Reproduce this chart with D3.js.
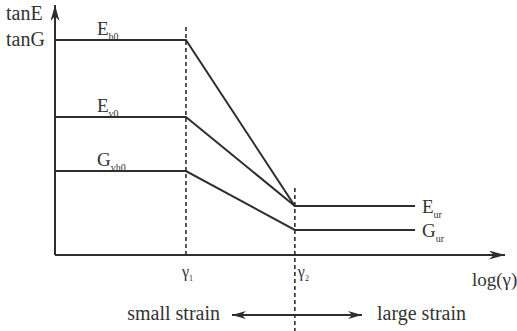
<!DOCTYPE html>
<html><head><meta charset="utf-8">
<script src="https://cdn.jsdelivr.net/npm/d3@7"></script>
<style>body{margin:0;background:#fff}svg{display:block}</style>
</head><body><div id="c"></div>
<script>
// key strain positions on the log(γ) axis (arbitrary units)
const strainX = [0, 29.1, 53.3, 80];
const gamma1 = 29.1, gamma2 = 53.3;
// stiffness series (arbitrary units)
const seriesNames = ["E_h0", "E_v0", "G_vh0"];
const seriesBase = ["E", "E", "G"];
const seriesSub = ["h0", "v0", "vh0"];
const seriesValues = [
  [86, 86, 19.6, 19.6],
  [55.2, 55.2, 19.6, 19.6],
  [33.6, 33.6, 10, 10]
];
const endLabels = [{base:"E", sub:"ur", v:19.6}, {base:"G", sub:"ur", v:10}];
const yLabels = ["tanE", "tanG"];
const xLabel = "log(γ)";
const gammaLabels = [{base:"γ", sub:"1", v:gamma1}, {base:"γ", sub:"2", v:gamma2}];
const strainTexts = ["small strain", "large strain"];

const W = 517, H = 331;
const FONT = "'Liberation Serif', 'Times New Roman', Times, 'DejaVu Serif', serif";
const svg = d3.select("#c").append("svg").attr("width", W).attr("height", H)
  .attr("font-family", FONT);
const x = d3.scaleLinear().domain([0, 100]).range([55, 505]);
const y = d3.scaleLinear().domain([0, 100]).range([255, 5]);
const ink = "#2e2e2e";
const txt = "#333";

const defs = svg.append("defs");
function marker(id, len, hw) {
  defs.append("marker").attr("id", id).attr("viewBox", `0 ${-hw} ${len} ${2*hw}`)
    .attr("refX", len).attr("refY", 0).attr("markerWidth", len).attr("markerHeight", 2*hw)
    .attr("markerUnits", "userSpaceOnUse").attr("orient", "auto-start-reverse")
    .append("path").attr("d", `M0,${-hw}L${len},0L0,${hw}L${len*0.3},0Z`).attr("fill", ink);
}
marker("ah", 16, 4.5);
marker("ah2", 14, 4);

// axes
svg.append("line").attr("x1", x(0)).attr("y1", y(0)).attr("x2", x(0)).attr("y2", y(100))
  .attr("stroke", ink).attr("stroke-width", 2).attr("marker-end", "url(#ah)");
svg.append("line").attr("x1", x(0)).attr("y1", y(0)).attr("x2", x(100)).attr("y2", y(0))
  .attr("stroke", ink).attr("stroke-width", 2).attr("marker-end", "url(#ah)");

// dashed reference lines
svg.append("line").attr("x1", x(gamma1)).attr("x2", x(gamma1)).attr("y1", 27).attr("y2", y(0))
  .attr("stroke", ink).attr("stroke-width", 1.6).attr("stroke-dasharray", "4,3");
svg.append("line").attr("x1", x(gamma2)).attr("x2", x(gamma2)).attr("y1", 188).attr("y2", H)
  .attr("stroke", ink).attr("stroke-width", 1.6).attr("stroke-dasharray", "4,3");

// series lines
const line = d3.line().x((d, i) => x(strainX[i])).y(d => y(d));
svg.selectAll("path.s").data(seriesValues).join("path").attr("class", "s")
  .attr("d", line).attr("fill", "none").attr("stroke", ink).attr("stroke-width", 2);

function subText(g, xx, yy, base, sub, fs, sfs) {
  const t = g.append("text").attr("x", xx).attr("y", yy).attr("font-size", fs).attr("fill", txt);
  t.append("tspan").text(base);
  t.append("tspan").attr("font-size", sfs).attr("dy", fs * 0.25).text(sub);
  return t;
}
// series labels
seriesValues.forEach((vals, i) => {
  subText(svg, 97, y(vals[0]) - 5, seriesBase[i], seriesSub[i], 19, 10);
});
endLabels.forEach(d => subText(svg, 422, y(d.v) + 7, d.base, d.sub, 19, 10));

// y labels
svg.append("text").attr("x", 6).attr("y", 20).attr("font-size", 20).attr("fill", txt).text(yLabels[0]);
svg.append("text").attr("x", 6).attr("y", 46).attr("font-size", 20).attr("fill", txt).text(yLabels[1]);

// gamma labels
subText(svg, x(gamma1) - 4, 277, gammaLabels[0].base, gammaLabels[0].sub, 16, 8);
subText(svg, x(gamma2) + 3, 277, gammaLabels[1].base, gammaLabels[1].sub, 16, 8);

// x label
svg.append("text").attr("x", 472).attr("y", 286).attr("font-size", 19).attr("fill", txt).text(xLabel);

// strain arrow
svg.append("line").attr("x1", 232).attr("x2", 362).attr("y1", 315).attr("y2", 315)
  .attr("stroke", ink).attr("stroke-width", 1.8)
  .attr("marker-start", "url(#ah2)").attr("marker-end", "url(#ah2)");
svg.append("text").attr("x", 220).attr("y", 320).attr("text-anchor", "end").attr("font-size", 20).attr("fill", txt).text(strainTexts[0]);
svg.append("text").attr("x", 377).attr("y", 320).attr("font-size", 20).attr("fill", txt).text(strainTexts[1]);
</script></body></html>
